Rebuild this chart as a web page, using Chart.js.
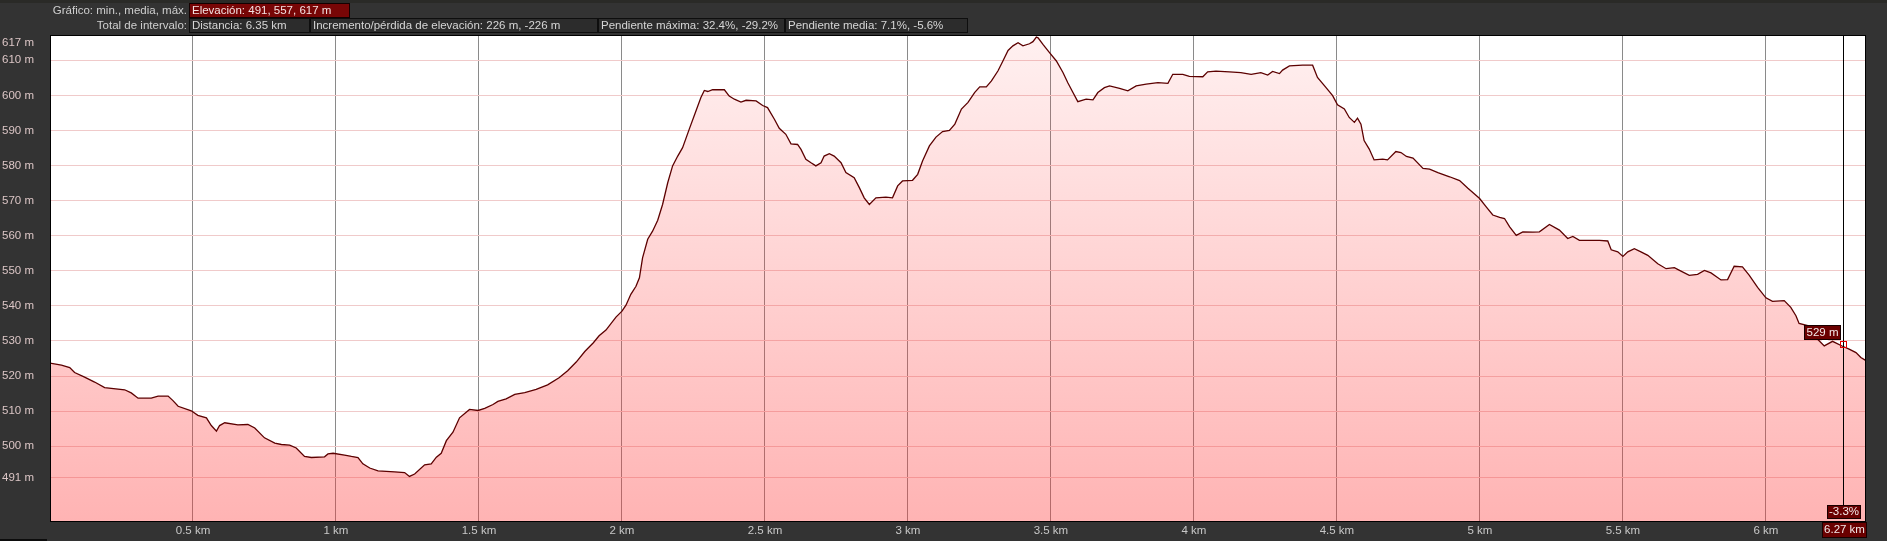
<!DOCTYPE html>
<html>
<head>
<meta charset="utf-8">
<script src="https://cdn.jsdelivr.net/npm/chart.js@4/dist/chart.umd.min.js"></script>
<style>
  html, body { margin: 0; padding: 0; background: #333; }
  #wrap { width: 1887px; height: 541px; }
</style>
</head>
<body>
<div id="wrap"><canvas id="profile" width="1887" height="541"></canvas></div>
<script>
// Elevation profile (distance in km, elevation in m)
const distKm = [
  0.0, 0.04, 0.069, 0.086, 0.121, 0.156, 0.191, 0.261, 0.284, 0.308, 0.354, 0.378, 0.413, 0.43, 0.448,
  0.494, 0.517, 0.547, 0.564, 0.582, 0.593, 0.611, 0.657, 0.692, 0.716, 0.75, 0.786, 0.809, 0.838, 0.861,
  0.89, 0.914, 0.96, 0.972, 0.99, 1.03, 1.054, 1.077, 1.094, 1.118, 1.147, 1.205, 1.24, 1.257, 1.275,
  1.31, 1.333, 1.351, 1.368, 1.386, 1.409, 1.432, 1.467, 1.497, 1.52, 1.549, 1.566, 1.595, 1.625, 1.66,
  1.70, 1.74, 1.78, 1.81, 1.84, 1.87, 1.90, 1.92, 1.944, 1.979, 2.0, 2.014, 2.031, 2.049, 2.061,
  2.072, 2.09, 2.107, 2.125, 2.142, 2.16, 2.177, 2.195, 2.212, 2.235, 2.259, 2.276, 2.288, 2.3, 2.317,
  2.358, 2.375, 2.393, 2.416, 2.434, 2.469, 2.492, 2.509, 2.533, 2.55, 2.573, 2.591, 2.614, 2.626, 2.643,
  2.661, 2.678, 2.696, 2.707, 2.725, 2.742, 2.766, 2.783, 2.812, 2.83, 2.847, 2.865, 2.888, 2.923, 2.946,
  2.964, 2.981, 3.016, 3.034, 3.051, 3.075, 3.098, 3.121, 3.145, 3.164, 3.187, 3.21, 3.233, 3.251, 3.274,
  3.292, 3.315, 3.332, 3.35, 3.367, 3.385, 3.402, 3.425, 3.437, 3.449, 3.455, 3.472, 3.495, 3.519, 3.542,
  3.559, 3.577, 3.594, 3.623, 3.647, 3.664, 3.687, 3.705, 3.74, 3.769, 3.798, 3.833, 3.874, 3.909, 3.926,
  3.961, 3.984, 4.031, 4.048, 4.077, 4.124, 4.164, 4.2, 4.234, 4.258, 4.275, 4.299, 4.31, 4.334, 4.38,
  4.415, 4.432, 4.462, 4.485, 4.502, 4.526, 4.543, 4.561, 4.572, 4.584, 4.595, 4.613, 4.63, 4.66, 4.677,
  4.706, 4.724, 4.743, 4.766, 4.801, 4.824, 4.853, 4.894, 4.929, 4.958, 4.999, 5.022, 5.045, 5.069, 5.086,
  5.104, 5.127, 5.15, 5.185, 5.208, 5.243, 5.278, 5.307, 5.325, 5.348, 5.383, 5.418, 5.447, 5.459, 5.482,
  5.5, 5.517, 5.54, 5.563, 5.587, 5.622, 5.651, 5.68, 5.703, 5.732, 5.761, 5.785, 5.808, 5.843, 5.866,
  5.889, 5.918, 5.942, 5.971, 6.0, 6.023, 6.064, 6.087, 6.105, 6.116, 6.146, 6.175, 6.204, 6.233, 6.268,
  6.291, 6.315, 6.332, 6.35
];
const elevM = [
  523.7, 523.1, 522.4, 521.0, 519.7, 518.3, 516.7, 516.1, 515.2, 513.7, 513.7, 514.3, 514.3, 513.0, 511.4,
  510.1, 508.8, 508.1, 505.9, 504.3, 505.9, 506.7, 506.1, 506.2, 505.2, 502.4, 500.9, 500.5, 500.3, 499.5,
  497.1, 496.8, 497.0, 497.8, 498.0, 497.5, 497.1, 496.8, 495.0, 493.8, 493.0, 492.7, 492.5, 491.4, 492.1,
  494.7, 495.0, 496.9, 498.0, 501.6, 504.0, 508.1, 510.5, 510.2, 510.8, 511.9, 512.8, 513.5, 514.8, 515.3,
  516.2, 517.5, 519.5, 521.5, 524.0, 527.0, 529.5, 531.5, 533.1, 536.8, 538.5, 540.2, 543.3, 545.6, 548.0,
  553.7, 559.0, 561.3, 564.4, 568.9, 575.1, 579.9, 582.7, 585.1, 590.3, 595.6, 599.4, 601.4, 601.1, 601.6,
  601.6, 599.8, 598.9, 598.1, 598.6, 598.4, 597.1, 596.5, 593.2, 590.6, 588.9, 586.2, 586.0, 584.6, 581.8,
  580.8, 579.9, 580.8, 582.7, 583.4, 582.7, 580.8, 578.0, 576.5, 573.7, 570.8, 568.9, 570.8, 571.0, 570.8,
  574.2, 575.6, 575.8, 577.5, 581.3, 585.6, 588.1, 589.7, 590.0, 591.8, 596.1, 598.0, 600.8, 602.4, 602.4,
  604.1, 607.0, 609.8, 612.8, 614.1, 615.0, 614.1, 614.7, 615.3, 616.6, 616.4, 614.5, 612.2, 609.8, 606.5,
  603.6, 600.8, 598.2, 598.9, 598.7, 600.8, 602.2, 602.7, 602.0, 601.3, 602.7, 603.2, 603.6, 603.4, 606.0,
  606.0, 605.4, 605.3, 606.7, 606.9, 606.7, 606.5, 606.0, 606.5, 605.8, 606.8, 606.2, 607.2, 608.4, 608.6,
  608.6, 605.1, 602.2, 599.9, 597.3, 596.1, 593.7, 592.3, 593.5, 591.8, 587.1, 584.7, 581.6, 581.8, 581.6,
  584.0, 583.7, 582.6, 582.1, 579.2, 579.0, 578.0, 576.8, 575.7, 573.5, 570.6, 568.2, 565.9, 565.2, 564.9,
  562.5, 560.1, 561.1, 561.0, 561.1, 563.2, 561.6, 559.2, 559.8, 558.7, 558.7, 558.7, 558.5, 556.0, 555.4,
  554.1, 555.4, 556.3, 555.4, 554.4, 552.0, 550.6, 550.9, 549.9, 548.7, 549.0, 550.1, 549.4, 547.4, 547.5,
  551.3, 551.1, 548.7, 545.3, 542.3, 541.3, 541.5, 539.6, 537.2, 535.0, 534.4, 531.0, 528.6, 529.9, 528.5,
  527.7, 526.7, 525.3, 524.4
];

const yTicks = [491, 500, 510, 520, 530, 540, 550, 560, 570, 580, 590, 600, 610, 617];
const xTicks = [0.5, 1, 1.5, 2, 2.5, 3, 3.5, 4, 4.5, 5, 5.5, 6];

const cursorKm = 6.27;
const cursorElev = 529;
const cursorSlope = '-3.3%';

const row1Label = 'Gráfico: min., media, máx.';
const row1Box = 'Elevación: 491, 557, 617 m';
const row2Label = 'Total de intervalo:';
const row2Boxes = [
  'Distancia: 6.35 km',
  'Incremento/pérdida de elevación: 226 m, -226 m',
  'Pendiente máxima: 32.4%, -29.2%',
  'Pendiente media: 7.1%, -5.6%'
];
const row2Widths = [121, 288, 187, 183];

const FONT = '11.5px "Liberation Sans", Arial, sans-serif';

function box(ctx, x, y, w, h, fill, stroke) {
  ctx.fillStyle = fill;
  ctx.fillRect(x, y, w, h);
  ctx.strokeStyle = stroke;
  ctx.lineWidth = 1;
  ctx.strokeRect(x + 0.5, y + 0.5, w - 1, h - 1);
}

const framePlugin = {
  id: 'frame',
  beforeDraw(chart) {
    const { ctx, chartArea: a } = chart;
    ctx.save();
    ctx.fillStyle = '#333333';
    ctx.fillRect(0, 0, chart.width, chart.height);
    ctx.fillStyle = '#2a2a27';
    ctx.fillRect(0, 0, chart.width, 3);
    ctx.fillStyle = '#ffffff';
    ctx.fillRect(a.left, a.top, a.right - a.left, a.bottom - a.top);

    // header rows
    ctx.font = FONT;
    ctx.textBaseline = 'middle';
    ctx.textAlign = 'right';
    ctx.fillStyle = '#cfcfcf';
    ctx.fillText(row1Label, 187, 10.5);
    ctx.fillText(row2Label, 187, 25.5);

    ctx.textAlign = 'left';
    box(ctx, 189, 3, 161, 15, '#780606', '#140000');
    ctx.fillStyle = '#f4e2e2';
    ctx.fillText(row1Box, 192, 10.5);

    let x = 189;
    row2Boxes.forEach((t, i) => {
      box(ctx, x, 18, row2Widths[i], 15, '#2c2c2c', '#0e0e0e');
      ctx.fillStyle = '#d6d6d6';
      ctx.fillText(t, x + 3, 25.5);
      x += row2Widths[i];
    });

    // black strip at the very bottom
    ctx.fillStyle = '#0c0c0c';
    ctx.fillRect(0, 539, 47, 2);
    ctx.restore();
  },
  afterDraw(chart) {
    const { ctx, chartArea: a, scales } = chart;
    ctx.save();
    // y labels
    ctx.font = FONT;
    ctx.textAlign = 'left';
    ctx.textBaseline = 'middle';
    ctx.fillStyle = '#dcc6c6';
    scales.y.ticks.forEach(t => {
      const py = Math.max(scales.y.getPixelForValue(t.value), a.top + 8);
      ctx.fillText(t.value + ' m', 2, py);
    });

    // plot frame
    ctx.strokeStyle = '#000';
    ctx.lineWidth = 1;
    ctx.strokeRect(a.left + 0.5, a.top + 0.5, a.right - a.left - 1, a.bottom - a.top);

    // cursor
    const cx = Math.round(scales.x.getPixelForValue(cursorKm)) + 0.5;
    const py = scales.y.getPixelForValue(cursorElev);
    ctx.beginPath();
    ctx.moveTo(cx, a.top);
    ctx.lineTo(cx, 505);
    ctx.stroke();

    ctx.strokeStyle = '#e00000';
    ctx.strokeRect(Math.round(cx - 3.5) + 0.5, Math.round(py - 3) + 0.5, 6, 6);

    // elevation flag
    const bx = Math.round(cx) - 40, by = Math.round(py) - 19;
    ctx.fillStyle = '#ffffff';
    ctx.beginPath();
    ctx.moveTo(bx + 16, by + 14);
    ctx.lineTo(bx + 26, by + 14);
    ctx.lineTo(bx + 21, by + 18);
    ctx.closePath();
    ctx.fill();
    box(ctx, bx, by, 37, 15, '#6a0000', '#1a0000');
    ctx.fillStyle = '#f4e8e8';
    ctx.textAlign = 'center';
    ctx.fillText(cursorElev + ' m', bx + 18.5, by + 7.5);

    // slope flag
    box(ctx, Math.round(cx) - 17, 505, 34, 14, '#6a0000', '#1a0000');
    ctx.fillStyle = '#f4e8e8';
    ctx.fillText(cursorSlope, Math.round(cx), 512);

    // distance flag
    box(ctx, Math.round(cx) - 22, 522, 45, 16, '#6a0000', '#1a0000');
    ctx.fillStyle = '#f4e8e8';
    ctx.fillText(cursorKm + ' km', Math.round(cx) + 0.5, 530);
    ctx.restore();
  }
};

const points = distKm.map((d, i) => ({ x: d, y: elevM[i] }));

new Chart(document.getElementById('profile'), {
  type: 'line',
  data: {
    datasets: [{
      data: points,
      borderColor: '#5c0000',
      borderWidth: 1.3,
      pointRadius: 0,
      tension: 0,
      fill: 'start',
      backgroundColor: (context) => {
        const { ctx, chartArea } = context.chart;
        if (!chartArea) return 'rgba(255,50,50,0.2)';
        const g = ctx.createLinearGradient(0, chartArea.top, 0, chartArea.bottom);
        g.addColorStop(0, 'rgba(255,50,50,0.07)');
        g.addColorStop(1, 'rgba(255,50,50,0.37)');
        return g;
      }
    }]
  },
  options: {
    responsive: false,
    animation: false,
    devicePixelRatio: 1,
    layout: { padding: { left: 0, top: 35, right: 21, bottom: 0 } },
    scales: {
      x: {
        type: 'linear',
        min: 0,
        max: 6.35,
        afterBuildTicks: (scale) => { scale.ticks = xTicks.map(v => ({ value: v })); },
        afterFit: (scale) => { scale.height = 20; },
        ticks: {
          autoSkip: false,
          maxRotation: 0,
          padding: 3,
          color: '#c8c8c8',
          font: { family: '"Liberation Sans", Arial, sans-serif', size: 11.5 },
          callback: (v) => v + ' km'
        },
        grid: { color: '#8a8a8a', drawTicks: false, lineWidth: 1 },
        border: { display: false }
      },
      y: {
        min: 478.7,
        max: 617.2,
        afterBuildTicks: (scale) => { scale.ticks = yTicks.map(v => ({ value: v })); },
        afterFit: (scale) => { scale.width = 50; },
        ticks: { display: false },
        grid: { color: '#f0caca', drawTicks: false, lineWidth: 1 },
        border: { display: false }
      }
    },
    plugins: {
      legend: { display: false },
      tooltip: { enabled: false }
    }
  },
  plugins: [framePlugin]
});
</script>
</body>
</html>
